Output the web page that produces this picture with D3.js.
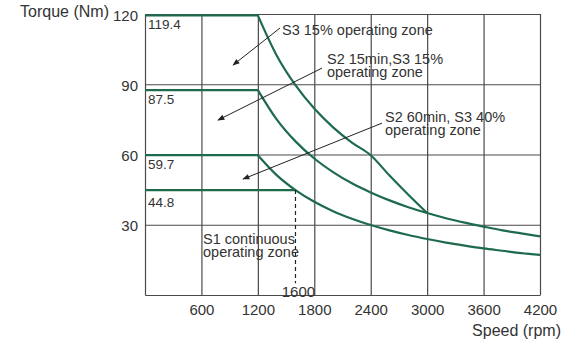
<!DOCTYPE html>
<html>
<head>
<meta charset="utf-8">
<script src="https://cdn.jsdelivr.net/npm/d3@7"></script>
<style>
  body { margin: 0; background: #fff; }
  svg { display: block; font-family: "Liberation Sans", Arial, sans-serif; }
  .axis text { fill: #333; font-size: 15px; font-family: "Liberation Sans", Arial, sans-serif; }
  .axis line, .axis path { stroke: #4a4a4a; stroke-width: 1.2; }
</style>
</head>
<body>
<svg id="chart" width="571" height="344"></svg>
<script>
// speed (rpm) and torque (Nm)
const xTicks = [600, 1200, 1800, 2400, 3000, 3600, 4200];
const yTicks = [30, 60, 90, 120];

const s3_15 = [[0, 119.4], [1200, 119.4], [1400, 102.3], [1600, 89.6], [1800, 79.6], [2000, 71.6],
  [2200, 65.1], [2400, 59.7], [2600, 51.0], [2800, 42.8], [3000, 35.0]];
const s2_15 = [[0, 87.5], [1200, 87.5], [1400, 75.0], [1600, 65.6], [1800, 58.3], [2000, 52.5],
  [2200, 47.7], [2400, 43.8], [2600, 40.4], [2800, 37.5], [3000, 35.0], [3200, 32.8],
  [3400, 30.9], [3600, 29.2], [3800, 27.6], [4000, 26.3], [4200, 25.0]];
const s2_60 = [[0, 59.7], [1200, 59.7], [1400, 51.2], [1600, 44.8], [1800, 39.8], [2000, 35.8],
  [2200, 32.6], [2400, 29.9], [2600, 27.6], [2800, 25.6], [3000, 23.9], [3200, 22.4],
  [3400, 21.1], [3600, 19.9], [3800, 18.9], [4000, 17.9], [4200, 17.1]];
const s1 = [[0, 44.8], [1600, 44.8]];

const levelLabels = ['119.4', '87.5', '59.7', '44.8'];
const levelValues = [119.4, 87.5, 59.7, 44.8];

// zone notes: text lines, anchor (rpm, Nm), arrow from -> to (rpm, Nm)
const notes = [
  { lines: ['S3 15% operating zone'], at: [1457, 111], from: [1435, 114], to: [936, 98.2] },
  { lines: ['S2 15min,S3 15%', 'operating zone'], at: [1935, 98.6], from: [1882, 96.9], to: [776, 74.7] },
  { lines: ['S2 60min, S3 40%', 'operating zone'], at: [2552, 73.8], from: [2520, 73.4], to: [1042, 49.5] },
  { lines: ['S1 continuous', 'operating zone'], at: [617, 21.7] }
];

const svg = d3.select('#chart');
const x = d3.scaleLinear().domain([0, 4200]).range([145, 540]);
const y = d3.scaleLinear().domain([0, 120]).range([295, 14]);

svg.append('rect').attr('width', 571).attr('height', 344).attr('fill', '#fff');

svg.append('g')
  .attr('class', 'axis x-axis')
  .attr('transform', `translate(0,${y(0)})`)
  .call(d3.axisBottom(x).tickValues(xTicks).tickFormat(d3.format('d'))
    .tickSize(-(y(0) - y(120))).tickSizeOuter(0).tickPadding(9));

svg.append('g')
  .attr('class', 'axis y-axis')
  .attr('transform', `translate(${x(0)},0)`)
  .call(d3.axisLeft(y).tickValues(yTicks).tickFormat(d3.format('d'))
    .tickSize(-(x(4200) - x(0))).tickSizeOuter(0).tickPadding(7));

svg.selectAll('.y-axis text').attr('dy', '0.4em');

const green = '#1d6b4c';
const flat = d3.line().x(d => x(d[0])).y(d => y(d[1]));
const curved = d3.line().x(d => x(d[0])).y(d => y(d[1])).curve(d3.curveMonotoneX);

[s3_15, s2_15, s2_60].forEach(series => {
  const knee = series.findIndex(d => d[0] === 1200);
  svg.append('path')
    .attr('d', flat(series.slice(0, knee + 1)) + curved(series.slice(knee)).replace(/^M/, 'L'))
    .attr('fill', 'none')
    .attr('stroke', green)
    .attr('stroke-width', 2.2)
    .attr('stroke-linejoin', 'round');
});

svg.append('path')
  .attr('d', flat(s1))
  .attr('fill', 'none')
  .attr('stroke', green)
  .attr('stroke-width', 2.2);

// dashed drop at 1600 rpm
svg.append('line')
  .attr('x1', x(1600)).attr('x2', x(1600))
  .attr('y1', y(44.8)).attr('y2', y(5))
  .attr('stroke', '#222')
  .attr('stroke-width', 1.2)
  .attr('stroke-dasharray', '4,3');

svg.append('text')
  .attr('x', x(1600) + 3).attr('y', y(0) + 2)
  .attr('text-anchor', 'middle')
  .attr('font-size', 15)
  .attr('fill', '#333')
  .text('1600');

levelValues.forEach((v, i) => {
  svg.append('text')
    .attr('x', x(0) + 3)
    .attr('y', y(v) + (i === 3 ? 17 : 14))
    .attr('font-size', 13.5)
    .attr('fill', '#333')
    .text(levelLabels[i]);
});

const defs = svg.append('defs');
defs.append('marker')
  .attr('id', 'arrow')
  .attr('viewBox', '0 0 10 10')
  .attr('refX', 9).attr('refY', 5)
  .attr('markerWidth', 9).attr('markerHeight', 7)
  .attr('markerUnits', 'userSpaceOnUse')
  .attr('orient', 'auto')
  .append('path')
  .attr('d', 'M0,1 L10,5 L0,9 Z')
  .attr('fill', '#222');

notes.forEach(n => {
  if (n.from) {
    svg.append('line')
      .attr('x1', x(n.from[0])).attr('y1', y(n.from[1]))
      .attr('x2', x(n.to[0])).attr('y2', y(n.to[1]))
      .attr('stroke', '#222')
      .attr('stroke-width', 1)
      .attr('marker-end', 'url(#arrow)');
  }
  const t = svg.append('text')
    .attr('x', x(n.at[0])).attr('y', y(n.at[1]))
    .attr('font-size', 14.5)
    .attr('fill', '#333');
  n.lines.forEach((s, i) => {
    t.append('tspan')
      .attr('x', x(n.at[0]))
      .attr('dy', i === 0 ? 0 : 13)
      .text(s);
  });
});

svg.append('text')
  .attr('x', 109).attr('y', 17)
  .attr('text-anchor', 'end')
  .attr('font-size', 16)
  .attr('fill', '#333')
  .text('Torque (Nm)');

svg.append('text')
  .attr('x', 561).attr('y', 336)
  .attr('text-anchor', 'end')
  .attr('font-size', 16)
  .attr('fill', '#333')
  .text('Speed (rpm)');
</script>
</body>
</html>
